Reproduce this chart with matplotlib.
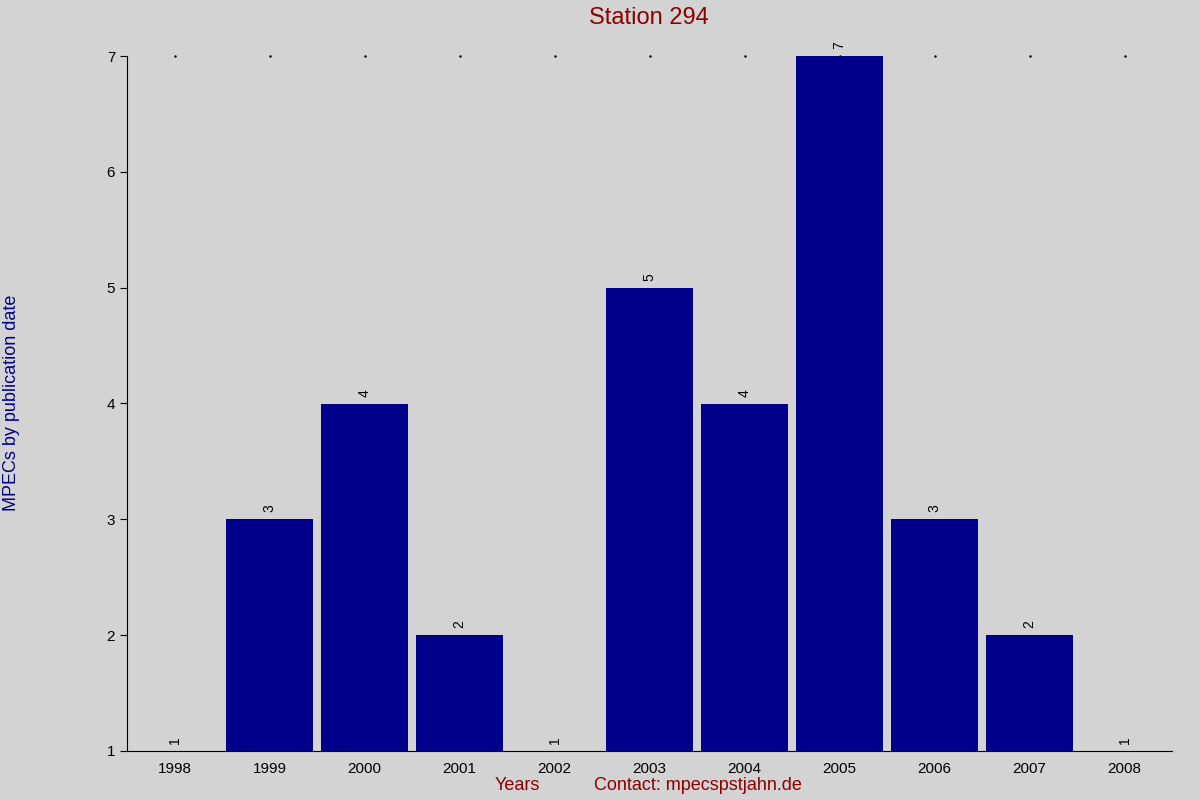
import matplotlib
matplotlib.use("Agg")
import matplotlib.pyplot as plt

years = ["1998","1999","2000","2001","2002","2003","2004","2005","2006","2007","2008"]
counts = [1,3,4,2,1,5,4,7,3,2,1]

plt.rcParams['font.family'] = ['Liberation Sans', 'DejaVu Sans']
fig = plt.figure(figsize=(12, 8), dpi=100, facecolor='#d3d3d3')
ax = fig.add_axes([127/1200, 1-751/800, (1172-127)/1200, (751-56)/800])
ax.set_facecolor('#d3d3d3')
x = list(range(len(years)))
ax.bar(x, [c - 1 for c in counts], bottom=1, width=0.91, color='#00008b')
for xi, c in zip(x, counts):
    ax.text(xi, c + 0.06, str(c), rotation=90, ha='center', va='bottom', fontsize=10)
ax.set_xlim(-0.5, 10.5)
ax.set_ylim(1, 7)
ax.set_xticks(x)
ax.set_xticklabels(years, fontsize=11)
ax.set_yticks(range(1, 8))
ax.tick_params(axis='y', labelsize=11, length=5, direction='out')
ax.tick_params(axis='x', length=0, pad=8)
for s in ['top', 'right']:
    ax.spines[s].set_visible(False)
for xi in x:
    ax.plot(xi, 7, marker='.', markersize=1.5, color='black', clip_on=False)
fig.text(649/1200, 1-18/800, "Station 294", color='#8b0000', fontsize=17, ha='center', va='center')
fig.text(12/1200, 1-403/800, "MPECs by publication date", color='#00008b', fontsize=13, rotation=90, ha='center', va='center')
fig.text(517/1200, 1-786/800, "Years", color='#8b0000', fontsize=13, ha='center', va='center')
fig.text(698/1200, 1-786/800, "Contact: mpecspstjahn.de", color='#8b0000', fontsize=13, ha='center', va='center')
fig.savefig("out.png", dpi=100, facecolor=fig.get_facecolor())
